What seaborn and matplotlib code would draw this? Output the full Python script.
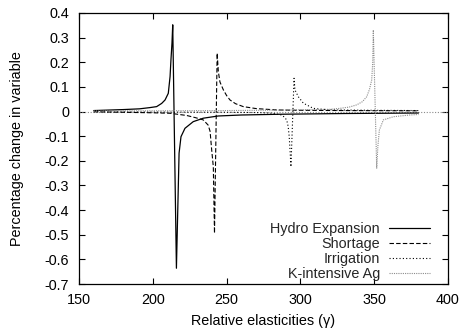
import matplotlib
matplotlib.use("Agg")
import matplotlib.pyplot as plt
import seaborn as sns
import pandas as pd

# ---- data ----
hydro_x = [160, 170, 180, 191, 198, 202.6, 206, 208.3, 210.5, 211.7, 212.3, 213.0, 213.5,
           216.0, 217.8, 219.1, 221.8, 227.4, 234.2, 244.4, 260, 286, 330, 380]
hydro_y = [0.004, 0.006, 0.008, 0.011, 0.016, 0.020, 0.033, 0.047, 0.074, 0.142, 0.210, 0.278, 0.352,
           -0.636, -0.169, -0.102, -0.068, -0.041, -0.027, -0.018, -0.014, -0.011, -0.008, -0.006]

short_x = [160, 180, 200, 211.7, 223, 229, 234.2, 237.5, 238.8, 239.9, 241.0, 241.8,
           243.6, 244.4, 245.5, 247.8, 250, 252.3, 256, 261.3, 270, 284, 300, 330, 380]
short_y = [-0.001, -0.003, -0.005, -0.007, -0.016, -0.025, -0.034, -0.055, -0.080, -0.156, -0.224, -0.494,
           0.237, 0.162, 0.120, 0.088, 0.065, 0.047, 0.032, 0.020, 0.012, 0.0065, 0.005, 0.004, 0.003]

irr_x = [160, 200, 250, 270, 279.4, 284, 287.3, 289, 290.7, 291.7, 292.4, 293.0, 293.6,
         295.7, 296.3, 298.6, 302, 308.7, 315, 324.6, 350, 380]
irr_y = [-0.001, -0.002, -0.003, -0.004, -0.006, -0.010, -0.014, -0.022, -0.034, -0.060, -0.100, -0.160, -0.224,
         0.135, 0.088, 0.060, 0.034, 0.013, 0.009, 0.0065, 0.005, 0.004]

kag_x = [160, 200, 250, 290, 320, 326.8, 333, 338.1, 342, 344.9, 346.8, 348.3, 349.0, 349.4,
         351.7, 352.5, 353.5, 356.2, 363, 374.2, 380]
kag_y = [0.002, 0.003, 0.004, 0.006, 0.009, 0.013, 0.018, 0.027, 0.040, 0.060, 0.090, 0.128, 0.200, 0.331,
         -0.230, -0.140, -0.075, -0.034, -0.021, -0.014, -0.012]

series_names = ["Hydro Expansion", "Shortage", "Irrigation", "K-intensive Ag"]

x_ticks = [150, 200, 250, 300, 350, 400]
y_ticks = [0.4, 0.3, 0.2, 0.1, 0, -0.1, -0.2, -0.3, -0.4, -0.5, -0.6, -0.7]
y_tick_labels = ["0.4", "0.3", "0.2", "0.1", "0", "-0.1", "-0.2", "-0.3", "-0.4", "-0.5", "-0.6", "-0.7"]

# ---- styling ----
sns.set_theme(style="white")
plt.rcParams["font.family"] = ["Liberation Sans", "DejaVu Sans"]
plt.rcParams["axes.unicode_minus"] = False
FS = 10.4

fig = plt.figure(figsize=(4.66, 3.34), dpi=100)
ax = fig.add_axes([79 / 466, 50 / 334, 369 / 466, 271 / 334])

# zero axis (dotted grey)
ax.axhline(0, color="#8a8a8a", lw=0.8, ls=(0, (1, 1.5)), zorder=1)

styles = [
    dict(color="black", lw=0.9, linestyle="-"),
    dict(color="black", lw=0.8, linestyle=(0, (4, 2))),
    dict(color="black", lw=0.8, linestyle=(0, (1, 2))),
    dict(color="#8c8c8c", lw=0.8, linestyle=(0, (1, 1))),
]
data = [(hydro_x, hydro_y), (short_x, short_y), (irr_x, irr_y), (kag_x, kag_y)]
for (xs, ys), name, st in zip(data, series_names, styles):
    df = pd.DataFrame({"x": xs, "y": ys})
    sns.lineplot(data=df, x="x", y="y", ax=ax, sort=False, estimator=None,
                 label=name, zorder=3, **st)

ax.set_xlim(150, 400)
ax.set_ylim(-0.7, 0.4)
ax.set_xticks(x_ticks)
ax.set_xticklabels([str(t) for t in x_ticks])
ax.set_yticks(y_ticks)
ax.set_yticklabels(y_tick_labels)

ax.tick_params(axis="both", which="both", direction="in", length=4, width=0.8,
               colors="black", labelsize=FS, top=True, right=True, bottom=True, left=True)
ax.tick_params(axis="x", pad=6.5)
ax.tick_params(axis="y", pad=7)
for sp in ax.spines.values():
    sp.set_visible(True)
    sp.set_color("black")
    sp.set_linewidth(0.9)

ax.set_xlabel("Relative elasticities (\u03b3)", fontsize=FS, color="black")
ax.set_ylabel("Percentage change in variable", fontsize=FS, color="black")
ax.xaxis.set_label_coords(0.5, -0.112)
ax.yaxis.set_label_coords(-0.15, 0.5)

handles, labels = ax.get_legend_handles_labels()
ax.legend(handles, labels, loc="lower right", bbox_to_anchor=(0.951, 0.01),
          markerfirst=False, frameon=False, handlelength=2.8, handletextpad=0.65,
          labelspacing=0.07, borderpad=0, borderaxespad=0, fontsize=FS)

fig.savefig("out.png", dpi=100, facecolor="white")
